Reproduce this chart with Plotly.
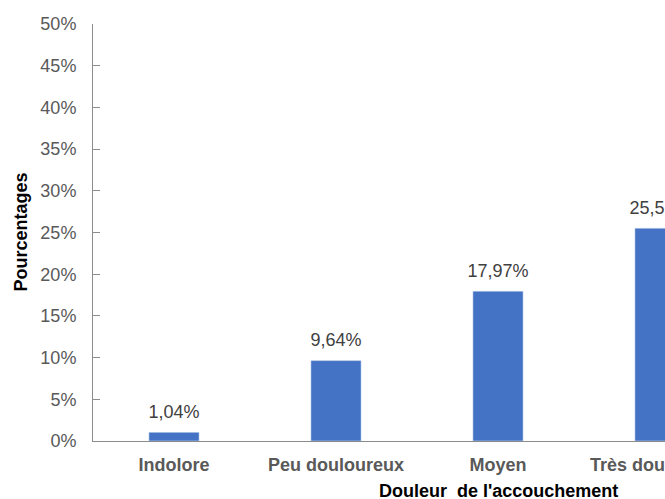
import plotly.graph_objects as go

categories = ["Indolore", "Peu douloureux", "Moyen", "Très douloureux", "Insupportable"]
values = [1.04, 9.64, 17.97, 25.52, 45.83]
y_ticks = [0, 5, 10, 15, 20, 25, 30, 35, 40, 45, 50]
y_tick_labels = [f"{v}%" for v in y_ticks]
value_labels = [f"{v:.2f}".replace(".", ",") + "%" for v in values]

FONT = "Liberation Sans"

fig = go.Figure(go.Bar(
    x=categories,
    y=values,
    marker=dict(color="#4472C4"),
    width=0.31,
    hoverinfo="x+y",
))

fig.add_trace(go.Scatter(
    x=categories,
    y=values,
    mode="markers+text",
    marker=dict(size=14, opacity=0),
    text=value_labels,
    textposition="top center",
    textfont=dict(family=FONT, size=18, color="#404040"),
    cliponaxis=False,
    hoverinfo="skip",
))

fig.add_annotation(
    x=0, y=0.5, xref="paper", yref="paper",
    xanchor="center", yanchor="middle", xshift=-73,
    text="Pourcentages", textangle=-90, showarrow=False,
    font=dict(family=FONT, size=18, color="#000000", weight="bold"),
)

fig.add_annotation(
    x=0.5, y=0, xref="paper", yref="paper",
    xanchor="center", yanchor="middle", yshift=-50,
    text="Douleur  de l'accouchement", showarrow=False,
    font=dict(family=FONT, size=18, color="#000000", weight="bold"),
)

fig.update_layout(
    width=943,
    height=499,
    margin=dict(l=93, r=40, t=24, b=58),
    paper_bgcolor="white",
    plot_bgcolor="white",
    showlegend=False,
    font=dict(family=FONT, size=18, color="#595959"),
)

fig.update_xaxes(
    showline=True,
    linecolor="#8c8c8c",
    linewidth=1,
    ticks="",
    showgrid=False,
    automargin=False,
    ticklabelstandoff=7,
    tickfont=dict(family=FONT, size=18, color="#595959", weight="bold"),
)

fig.update_yaxes(
    range=[0, 50],
    tickvals=y_ticks,
    ticktext=y_tick_labels,
    showline=True,
    linecolor="#8c8c8c",
    linewidth=1,
    ticks="inside",
    ticklen=7,
    tickwidth=1,
    tickcolor="#8c8c8c",
    showgrid=False,
    zeroline=False,
    automargin=False,
    ticklabelstandoff=12,
    tickfont=dict(family=FONT, size=18, color="#595959"),
)

fig.write_html("out.html", post_script="document.body.style.margin='0';document.body.style.overflow='hidden';document.documentElement.style.overflow='hidden';")
